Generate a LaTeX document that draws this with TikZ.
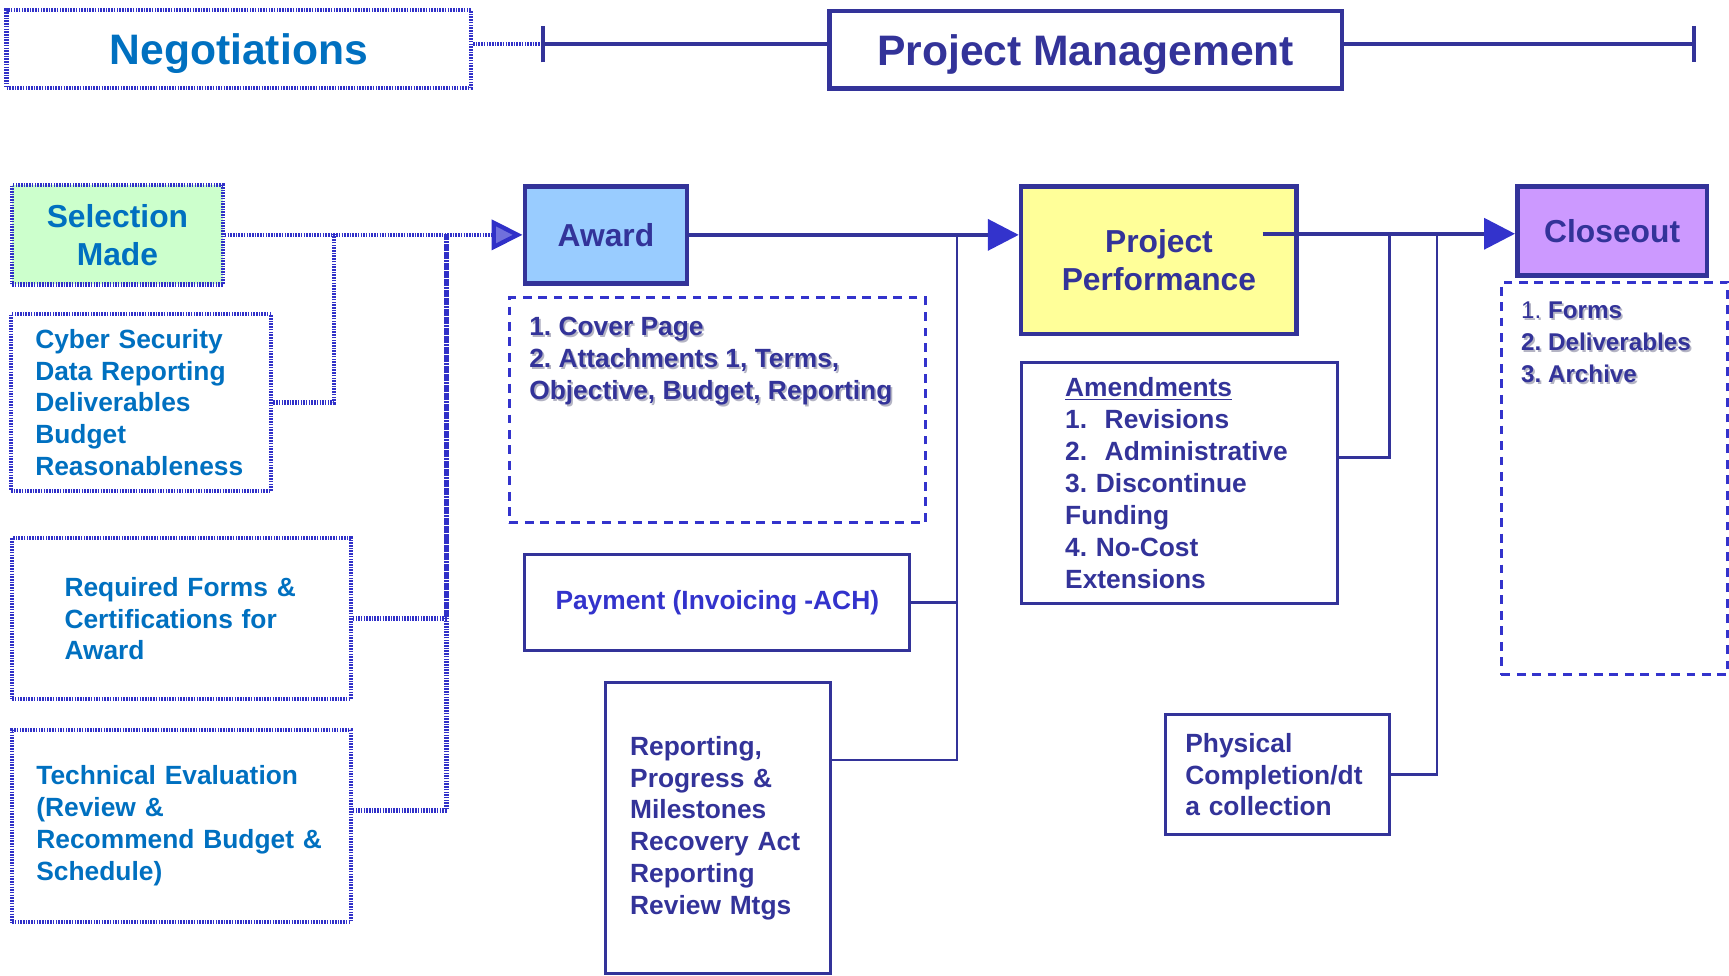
\documentclass[tikz,border=0pt]{standalone}
\usepackage{fontspec}
\setmainfont{Liberation Sans}
\usepackage{tikz}
\usetikzlibrary{arrows.meta}
\usetikzlibrary{calc}
\frenchspacing

\definecolor{navy}{HTML}{333399}
\definecolor{brightnavy}{HTML}{3333CC}
\definecolor{textblue}{HTML}{0070C0}
\definecolor{chkblue}{HTML}{3030C8}
\definecolor{chkfill}{HTML}{7070DC}
\definecolor{selgreen}{HTML}{CCFFCC}
\definecolor{awardblue}{HTML}{99CCFF}
\definecolor{ppyellow}{HTML}{FFFF99}
\definecolor{copurple}{HTML}{CC99FF}
\definecolor{shadowgray}{HTML}{B4B4C4}

\newcommand{\bodysize}{\fontsize{13.6}{16.45}\selectfont}
\newcommand{\smallsize}{\fontsize{12.5}{16.45}\selectfont}
\newcommand{\headsize}{\fontsize{16.4}{19.6}\selectfont}
\newcommand{\titlesize}{\fontsize{22}{26}\selectfont}
\newcommand{\shadowed}[1]{\leavevmode\rlap{\kern0.9pt\raisebox{-0.9pt}{\textcolor{shadowgray}{#1}}}\mbox{#1}}

\tikzstyle{chkline}=[draw=chkblue, line width=2.2pt, dash pattern=on 0.8pt off 0.6pt]
\tikzstyle{chkbox}=[chkline, rectangle, font=\bfseries\bodysize, text=textblue, align=left]
\tikzstyle{stage}=[draw=navy, line width=2.4pt, font=\bfseries\headsize, text=navy, align=center, inner sep=0pt]
\tikzstyle{detail}=[draw=navy, line width=1.5pt, font=\bfseries\bodysize, text=navy, align=left]
\tikzstyle{dashbox}=[draw=brightnavy, line width=1.6pt, dash pattern=on 0.16cm off 0.12cm, inner sep=0.36cm, font=\bfseries\bodysize, text=navy]
\tikzstyle{timeline}=[draw=navy, line width=2pt, -{Bar[width=0.66cm]}]
\tikzstyle{trunk}=[draw=navy, line width=1.3pt]
\tikzstyle{flow}=[draw=navy, line width=2pt, -{Triangle[length=0.56cm, width=0.56cm, color=brightnavy]}]

\begin{document}
\begin{tikzpicture}
        \useasboundingbox (0,0) rectangle (31.36,-17.70);
        % header
        \node[chkbox, align=center, font=\bfseries\titlesize, text depth=0pt, minimum width=8.42cm, minimum height=1.42cm] (neg) at (4.33,-0.89) {Negotiations};
        \node[stage, font=\bfseries\titlesize, text depth=0pt, minimum width=9.30cm, minimum height=1.40cm] (pm) at (19.69,-0.90) {Project Management};
        \coordinate (pmL) at (9.82,-0.80);
        \coordinate (pmR) at (30.76,-0.80);
        \draw[chkline] (pmL -| neg.east) -- (pmL);
        \draw[timeline] (pm.west |- pmL) -- (pmL);
        \draw[timeline] (pm.east |- pmL) -- (pmR);

        % negotiations column
        \node[chkbox, align=center, fill=selgreen, font=\bfseries\headsize, minimum width=3.82cm, minimum height=1.80cm] (sel) at (2.13,-4.26) {Selection\\Made};
        \node[chkbox, text width=3.84cm, inner xsep=0.44cm, minimum height=3.20cm] (cyber) at (2.56,-7.30) {Cyber Security\\Data Reporting\\Deliverables\\Budget\\Reasonableness};
        \node[chkbox, text width=4.24cm, inner xsep=0.95cm, minimum height=2.92cm] (req) at (3.29,-11.22) {Required Forms \&\\Certifications for\\Award};
        \node[chkbox, text width=5.26cm, inner xsep=0.44cm, minimum height=3.48cm] (tech) at (3.29,-14.98) {Technical Evaluation\\(Review \&\\Recommend Budget \&\\Schedule)};

        % award column
        \node[stage, fill=awardblue, minimum width=2.94cm, minimum height=1.76cm] (award) at (10.99,-4.26) {Award};
        \node[dashbox] (awdet) at (13.01,-7.44) {\parbox[c][3.36cm][t]{6.82cm}{\shadowed{1. Cover Page}\\\shadowed{2. Attachments 1, Terms,}\\\shadowed{Objective, Budget, Reporting}}};
        \node[detail, text=brightnavy, minimum width=6.98cm, minimum height=1.74cm] (pay) at (13.01,-10.93) {Payment (Invoicing -ACH)};
        \node[detail, line width=1.8pt, text width=3.18cm, inner xsep=0.45cm, minimum height=5.28cm] (rep) at (13.02,-15.02) {Reporting,\\Progress \&\\Milestones\\Recovery Act\\Reporting\\Review Mtgs};

        % performance column
        \node[stage, fill=ppyellow, minimum width=5.00cm, minimum height=2.68cm] (pp) at (21.02,-4.72) {Project\\Performance};
        \node[detail, text width=4.14cm, inner xsep=0.80cm, minimum height=4.36cm] (amd) at (21.39,-8.76) {\underline{Amendments}\\1.~~Revisions\\2.~~Administrative\\3. Discontinue\\Funding\\4. No-Cost\\Extensions};
        \node[detail, text width=3.34cm, inner xsep=0.36cm, minimum height=2.18cm] (phys) at (23.17,-14.05) {Physical\\Completion/dt\\a collection};

        % closeout column
        \node[stage, fill=copurple, minimum width=3.44cm, minimum height=1.62cm] (co) at (29.24,-4.19) {Closeout};
        \node[dashbox, font=\bfseries\smallsize] (codet) at (29.28,-8.68) {\parbox[c][6.40cm][t]{3.38cm}{\shadowed{{\mdseries 1.} Forms}\\\shadowed{2. Deliverables}\\\shadowed{3. Archive}}};

        % connectors
        \coordinate (j1) at (6.06,-4.24);
        \coordinate (j2) at (8.10,-4.24);
        \coordinate (j3) at (17.36,-4.24);
        \coordinate (j4) at (25.20,-4.24);
        \coordinate (j5) at (26.06,-4.24);
        \coordinate (ppout) at (22.90,-4.24);
        \draw[chkline, -{Triangle[length=0.56cm, width=0.54cm, color=chkblue, fill=chkfill]}] (sel.east) -- (award.west);
        \draw[chkline] (cyber.east) -| (j1);
        \draw[chkline] (req.east) -| (j2);
        \draw[chkline] ($(tech.east)+(0,0.28)$) -| (j2);
        \draw[trunk] (pay.east) -| (j3);
        \draw[trunk] ($(rep.north east)+(0,-1.44)$) -| (j3);
        \draw[trunk] ($(amd.east)+(0,0.46)$) -| (j4);
        \draw[trunk] (phys.east) -| (j5);
        \draw[flow] (award.east) -- (award.east -| pp.west);
        \draw[flow] (ppout) -- (ppout -| co.west);
    \end{tikzpicture}
\end{document}
